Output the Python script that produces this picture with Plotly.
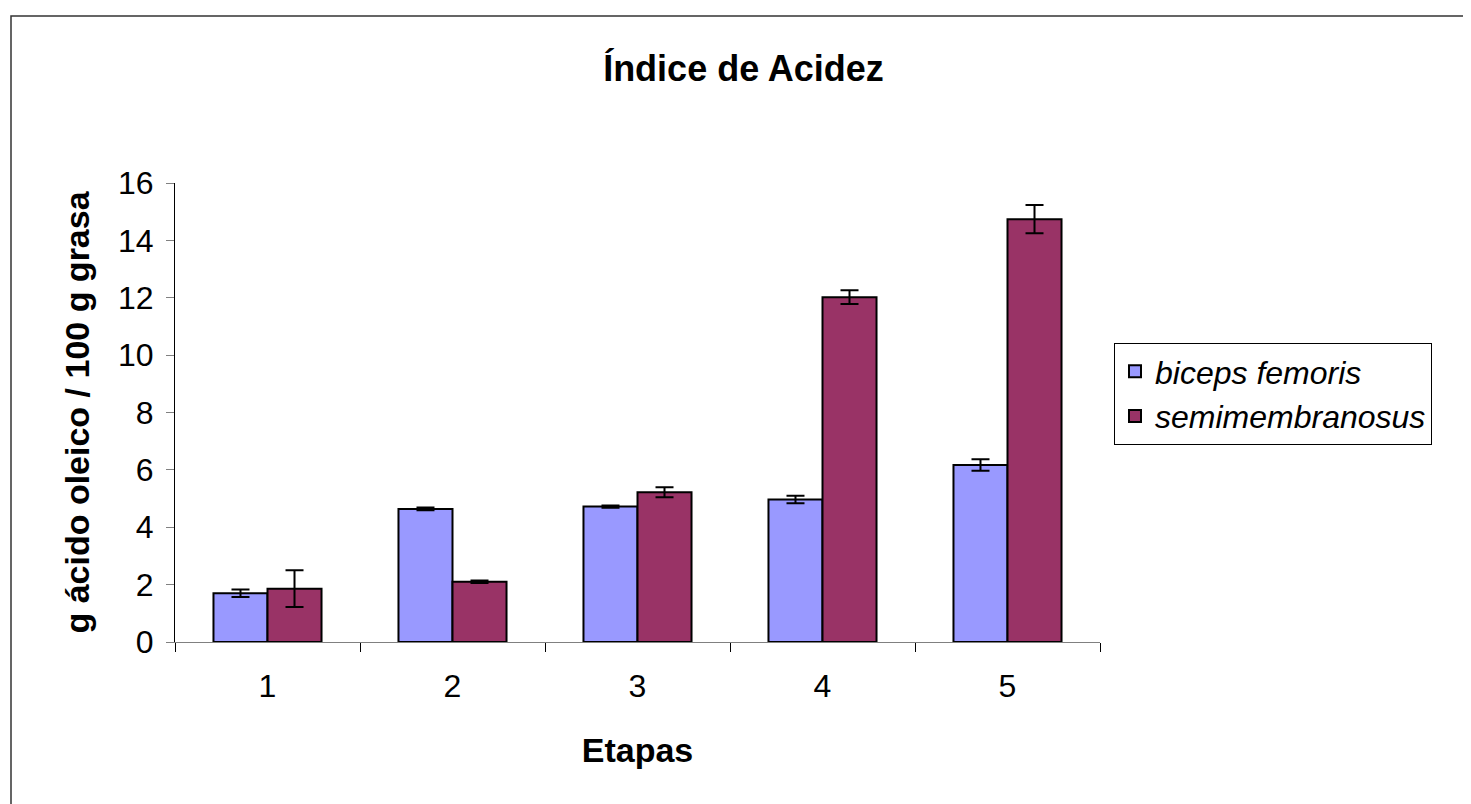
import plotly.graph_objects as go

etapas = [1, 2, 3, 4, 5]
tick_labels = ["1", "2", "3", "4", "5"]
biceps = [1.70, 4.64, 4.72, 4.97, 6.17]
biceps_err = [0.13, 0.05, 0.04, 0.13, 0.20]
semi = [1.86, 2.10, 5.22, 12.02, 14.74]
semi_err = [0.64, 0.04, 0.17, 0.24, 0.49]

FONT = "Liberation Sans, Arial, sans-serif"

fig = go.Figure()
fig.add_trace(go.Bar(
    x=etapas, y=biceps, name="<i>biceps femoris</i>",
    marker=dict(color="#9999FF", line=dict(color="black", width=2)),
    error_y=dict(type="data", array=biceps_err, visible=True, color="black", thickness=2, width=9),
))
fig.add_trace(go.Bar(
    x=etapas, y=semi, name="<i>semimembranosus</i>",
    marker=dict(color="#993366", line=dict(color="black", width=2)),
    error_y=dict(type="data", array=semi_err, visible=True, color="black", thickness=2, width=9),
))
# invisible trace carrying the between-category tick marks axis
fig.add_trace(go.Scatter(x=[0.5, 5.5], y=[0, 0], xaxis="x2", mode="lines",
                         line=dict(width=0), showlegend=False, hoverinfo="skip"))

fig.update_layout(
    width=1471, height=804,
    paper_bgcolor="white", plot_bgcolor="white",
    margin=dict(l=167, r=379, t=175, b=170),
    barmode="group", bargap=0.416, bargroupgap=0,
    font=dict(family=FONT, color="black"),
    title=dict(text="<b>Índice de Acidez</b>", font=dict(size=36, family=FONT, color="black"),
               x=0.5, xref="container", xanchor="center",
               y=1 - 60 / 804, yref="container", yanchor="middle"),
    xaxis=dict(range=[0.5, 5.5], tickvals=etapas, ticktext=tick_labels, ticks="",
               showline=True, linecolor="#808080", linewidth=1,
               tickfont=dict(size=32, family=FONT, color="black"),
               ticklabelstandoff=16,
               showgrid=False, zeroline=False,
               title=dict(text="<b>Etapas</b>", font=dict(size=34, family=FONT, color="black"), standoff=34)),
    xaxis2=dict(range=[0.5, 5.5], overlaying="x", side="bottom", anchor="y",
                tickvals=[0.5, 1.5, 2.5, 3.5, 4.5, 5.5], ticks="outside", ticklen=9,
                tickcolor="black", tickwidth=1, showticklabels=False, showgrid=False,
                zeroline=False, showline=False),
    yaxis=dict(range=[0, 16], tickvals=[0, 2, 4, 6, 8, 10, 12, 14, 16],
               ticks="outside", ticklen=8, tickcolor="#808080", tickwidth=1,
               showline=True, linecolor="black", linewidth=1,
               tickfont=dict(size=32, family=FONT, color="black"),
               ticklabelstandoff=6,
               showgrid=False, zeroline=False,
               title=dict(text="<b>g ácido oleico / 100 g grasa</b>",
                          font=dict(size=34, family=FONT, color="black"), standoff=18)),
    legend=dict(x=(1114 - 8 - 167) / 925, y=(634 - 335) / 459, xanchor="left", yanchor="top",
                bordercolor="black", borderwidth=1, bgcolor="white",
                font=dict(size=32, family=FONT, color="black"),
                itemsizing="constant"),
    shapes=[dict(type="rect", xref="paper", yref="paper",
                 x0=(11 - 175) / 925, x1=1.6, y0=-0.6, y1=(642 - 16) / 459,
                 line=dict(color="#333333", width=1.5), fillcolor="rgba(0,0,0,0)", layer="below")],
)

fig.write_html("out.html")
